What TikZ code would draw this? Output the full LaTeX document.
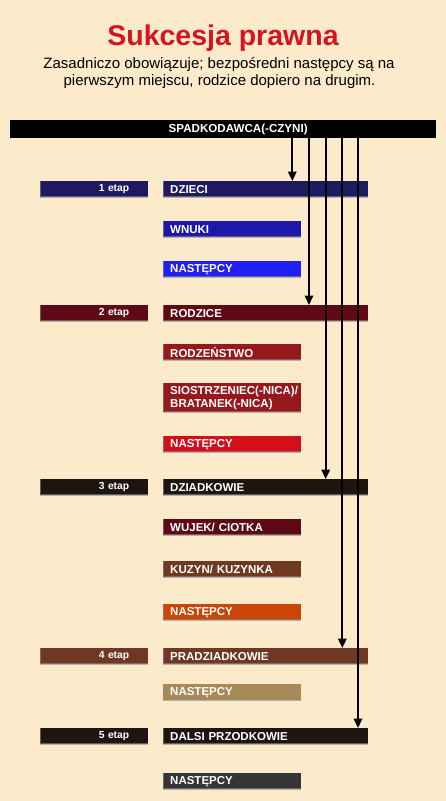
\documentclass[tikz,border=0pt]{standalone}
\usepackage{fontspec}
\setmainfont{Liberation Sans}
\usetikzlibrary{arrows.meta}
\definecolor{bg}{HTML}{FCEBCB}
\definecolor{titlered}{HTML}{D7141E}
\definecolor{cA}{HTML}{1F1960}
\definecolor{cB}{HTML}{1E18A8}
\definecolor{cC}{HTML}{1E1EF5}
\definecolor{cD}{HTML}{5E0A16}
\definecolor{cE}{HTML}{95191C}
\definecolor{cF}{HTML}{D40F1A}
\definecolor{cG}{HTML}{1E1410}
\definecolor{cH}{HTML}{6E3822}
\definecolor{cI}{HTML}{C84608}
\definecolor{cJ}{HTML}{A88A58}
\definecolor{cK}{HTML}{353535}
\tikzset{
  bar/.style={rectangle, anchor=north west, inner ysep=0pt, inner xsep=7pt,
    minimum height=16pt, text=white, font=\bfseries\fontsize{11.5}{13}\selectfont,
    align=left, draw=none,
    path picture={\draw[black!45, opacity=0.6, line width=1.6pt]
      (path picture bounding box.north west) -- (path picture bounding box.south west)
      -- (path picture bounding box.south east);}},
  longbar/.style={bar, minimum width=205pt, text width=191pt},
  shortbar/.style={bar, minimum width=138pt, text width=124pt},
  etap/.style={bar, minimum width=108pt, inner xsep=19pt, text width=70pt, align=right,
    font=\bfseries\fontsize{10.3}{12}\selectfont},
  arr/.style={line width=1.8pt, -{Triangle[length=9.5pt,width=8.5pt]}},
  subtext/.style={font=\fontsize{15}{17}\selectfont, anchor=base, inner sep=0pt}
}
\begin{document}
\begin{tikzpicture}[x=1pt,y=-1pt]
\fill[bg] (0,0) rectangle (446,801);
\useasboundingbox (0,0) rectangle (446,801);

\node[text=titlered, font=\bfseries\fontsize{28.5}{30}\selectfont, anchor=base, inner sep=0pt] (title) at (223,45) {Sukcesja prawna};
\node[subtext] (sub1) at (219,68) {Zasadniczo obowiązuje; bezpośredni następcy są na};
\node[subtext] (sub2) at (219.5,85) {pierwszym miejscu, rodzice dopiero na drugim.};

\node[rectangle, fill=black, anchor=north west, minimum width=426pt, minimum height=18pt, inner sep=0pt,
  text=white, font=\bfseries\fontsize{11.6}{13}\selectfont] (top) at (10,120) {\hspace*{30pt}SPADKODAWCA(-CZYNI)};

% stage 1
\node[etap, fill=cA] (e1) at (40,181) {1 etap};
\node[longbar, fill=cA] (dzieci) at (163,181) {DZIECI};
\node[shortbar, fill=cB] (wnuki) at (163,221) {WNUKI};
\node[shortbar, fill=cC] (nast1) at (163,261) {NASTĘPCY};
% stage 2
\node[etap, fill=cD] (e2) at (40,305) {2 etap};
\node[longbar, fill=cD] (rodzice) at (163,305) {RODZICE};
\node[shortbar, fill=cE] (rodz) at (163,344) {RODZEŃSTWO};
\node[shortbar, fill=cE, minimum height=29pt] (sios) at (163,383) {\rlap{SIOSTRZENIEC(-NICA)/}\\BRATANEK(-NICA)};
\node[shortbar, fill=cF] (nast2) at (163,436) {NASTĘPCY};
% stage 3
\node[etap, fill=cG] (e3) at (40,479) {3 etap};
\node[longbar, fill=cG] (dziadk) at (163,479) {DZIADKOWIE};
\node[shortbar, fill=cD] (wujek) at (163,519) {WUJEK/ CIOTKA};
\node[shortbar, fill=cH] (kuzyn) at (163,561) {KUZYN/ KUZYNKA};
\node[shortbar, fill=cI] (nast3) at (163,604) {NASTĘPCY};
% stage 4
\node[etap, fill=cH] (e4) at (40,648) {4 etap};
\node[longbar, fill=cH] (pradz) at (163,648) {PRADZIADKOWIE};
\node[shortbar, fill=cJ] (nast4) at (163,684) {NASTĘPCY};
% stage 5
\node[etap, fill=cG] (e5) at (40,728) {5 etap};
\node[longbar, fill=cG] (dalsi) at (163,728) {DALSI PRZODKOWIE};
\node[shortbar, fill=cK] (nast5) at (163,773) {NASTĘPCY};

% arrows
\coordinate (x1) at (292.3,0);
\coordinate (x2) at (309,0);
\coordinate (x3) at (325.7,0);
\coordinate (x4) at (342.3,0);
\coordinate (x5) at (358,0);
\draw[arr] (top.south -| x1) -- (dzieci.north -| x1);
\draw[arr] (top.south -| x2) -- (rodzice.north -| x2);
\draw[arr] (top.south -| x3) -- (dziadk.north -| x3);
\draw[arr] (top.south -| x4) -- (pradz.north -| x4);
\draw[arr] (top.south -| x5) -- (dalsi.north -| x5);
\end{tikzpicture}
\end{document}
